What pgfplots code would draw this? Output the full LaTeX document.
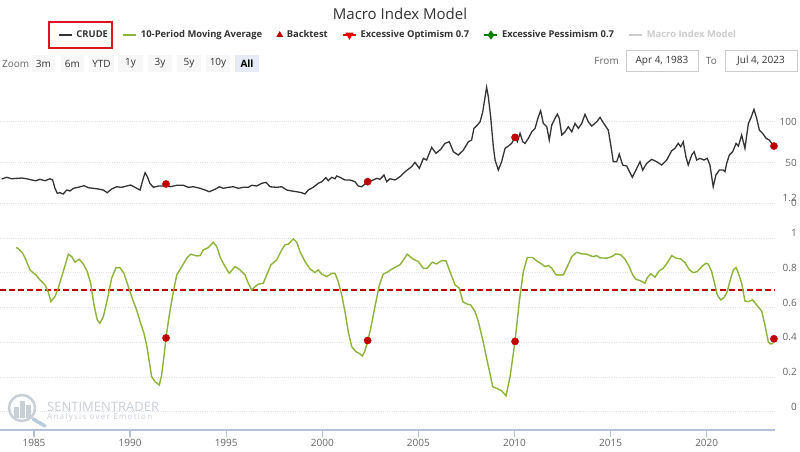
\documentclass[border=0pt]{standalone}
\usepackage{fontspec}
\setmainfont{Open Sans}
\newfontfamily\wmfont[LetterSpace=16]{Open Sans}
\usepackage{pgfplots}
\pgfplotsset{compat=1.18}
\usepackage{pgfplotstable}

\definecolor{crude}{HTML}{333333}
\definecolor{mavg}{HTML}{8DB33A}
\definecolor{thresh}{HTML}{B80000}
\definecolor{dotc}{HTML}{C00000}
\definecolor{gridc}{HTML}{E3E3E3}
\definecolor{axisc}{HTML}{B4C0D6}
\definecolor{tickc}{HTML}{666666}
\definecolor{legoff}{HTML}{CCCCCC}
\definecolor{optc}{HTML}{E00000}
\definecolor{pessc}{HTML}{008000}
\definecolor{btnc}{HTML}{F7F7F7}
\definecolor{btnsel}{HTML}{E6EBF5}
\definecolor{boxc}{HTML}{CCCCCC}
\definecolor{wmc}{HTML}{C9CFD6}
\definecolor{wmblue}{HTML}{B9CCDD}
\definecolor{hilite}{HTML}{E0141E}

% crude oil, weekly close
\pgfplotstableread{
year value
1983.32 29.8
1983.58 31.9
1983.84 30.1
1984.10 30.6
1984.36 31.0
1984.62 30.1
1984.88 28.6
1985.10 27.7
1985.31 29.4
1985.57 27.7
1985.83 30.1
1985.97 28.6
1986.09 18.4
1986.21 12.3
1986.35 13.0
1986.52 11.4
1986.70 16.3
1986.87 15.1
1987.05 18.4
1987.30 19.6
1987.60 21.6
1987.83 19.1
1988.09 18.4
1988.35 17.5
1988.61 16.3
1988.81 13.0
1989.04 17.5
1989.30 20.3
1989.56 19.6
1989.82 21.2
1990.03 22.4
1990.25 19.6
1990.52 16.3
1990.66 28.6
1990.78 37.5
1990.90 32.6
1991.03 24.5
1991.21 19.6
1991.47 21.2
1991.73 21.2
1991.85 23.7
1992.08 20.3
1992.42 22.1
1992.77 22.1
1993.03 19.6
1993.29 20.3
1993.64 18.4
1993.90 16.3
1994.12 14.2
1994.42 17.2
1994.64 20.3
1994.85 18.4
1995.11 19.6
1995.37 20.3
1995.63 18.4
1995.89 19.6
1996.15 19.6
1996.33 22.1
1996.59 21.2
1996.85 24.5
1997.07 25.7
1997.28 20.3
1997.63 19.6
1997.89 20.3
1998.15 16.3
1998.41 15.1
1998.67 14.2
1998.93 13.0
1999.10 11.4
1999.27 16.3
1999.53 19.6
1999.79 24.5
1999.97 26.5
2000.19 31.4
2000.31 27.7
2000.49 31.9
2000.66 30.1
2000.75 33.5
2000.92 31.9
2001.18 28.6
2001.44 28.6
2001.70 26.5
2001.87 21.2
2002.05 20.3
2002.22 23.7
2002.34 26.5
2002.57 27.7
2002.83 30.6
2003.00 29.4
2003.21 34.7
2003.35 26.5
2003.52 30.1
2003.78 28.6
2004.04 32.6
2004.22 36.8
2004.42 40.8
2004.65 44.9
2004.82 50.2
2005.05 42.9
2005.26 55.1
2005.43 53.1
2005.69 68.6
2005.92 61.3
2006.16 66.2
2006.38 73.5
2006.61 75.5
2006.82 63.2
2007.08 59.2
2007.34 65.3
2007.60 75.5
2007.77 77.6
2007.89 91.9
2008.07 96.0
2008.21 100.0
2008.35 112.3
2008.47 130.6
2008.55 142.2
2008.64 130.6
2008.76 106.1
2008.90 69.4
2008.99 53.1
2009.16 40.8
2009.33 51.0
2009.51 67.4
2009.68 70.2
2009.85 73.5
2010.03 80.9
2010.15 75.5
2010.29 85.8
2010.43 75.5
2010.55 73.5
2010.72 79.7
2010.90 87.7
2011.07 91.9
2011.24 106.1
2011.36 113.5
2011.50 98.0
2011.68 93.9
2011.81 77.6
2011.94 96.0
2012.11 104.2
2012.23 109.4
2012.33 104.2
2012.46 83.7
2012.63 87.7
2012.80 93.9
2012.98 87.7
2013.15 98.0
2013.32 91.9
2013.50 98.0
2013.67 109.1
2013.84 100.0
2014.02 94.7
2014.28 100.0
2014.45 105.4
2014.62 98.8
2014.88 89.8
2015.01 71.4
2015.14 51.0
2015.32 51.0
2015.45 60.4
2015.63 46.9
2015.84 45.7
2016.13 31.9
2016.36 42.9
2016.53 51.0
2016.67 40.8
2016.88 49.0
2017.14 53.9
2017.40 51.0
2017.66 46.9
2017.92 53.1
2018.18 64.5
2018.35 67.4
2018.52 73.5
2018.65 69.4
2018.78 75.5
2018.92 57.1
2019.04 46.9
2019.22 59.2
2019.35 63.2
2019.48 53.1
2019.65 55.1
2019.86 53.1
2020.03 55.1
2020.17 46.9
2020.26 32.6
2020.34 20.3
2020.48 34.7
2020.66 40.8
2020.86 40.8
2020.95 38.7
2021.04 49.0
2021.18 59.2
2021.35 63.2
2021.53 73.5
2021.65 70.2
2021.82 83.7
2021.99 67.4
2022.17 98.0
2022.29 104.2
2022.46 115.2
2022.60 104.2
2022.74 89.8
2022.91 85.8
2023.09 79.7
2023.26 77.6
2023.38 73.5
2023.50 70.2
}\crude

% 10-period moving average of the macro index model
\pgfplotstableread{
year value
1984.06 0.945
1984.18 0.940
1984.41 0.913
1984.58 0.874
1984.79 0.817
1984.96 0.800
1985.10 0.788
1985.31 0.759
1985.57 0.730
1985.74 0.690
1985.88 0.634
1986.09 0.663
1986.26 0.711
1986.52 0.807
1986.79 0.907
1986.96 0.893
1987.13 0.861
1987.36 0.878
1987.57 0.850
1987.77 0.807
1987.95 0.740
1988.12 0.615
1988.29 0.529
1988.43 0.510
1988.61 0.548
1988.81 0.644
1989.04 0.769
1989.27 0.830
1989.47 0.830
1989.68 0.797
1989.91 0.720
1990.14 0.644
1990.34 0.586
1990.52 0.519
1990.72 0.452
1990.86 0.384
1991.00 0.288
1991.12 0.202
1991.30 0.173
1991.52 0.154
1991.64 0.211
1991.76 0.317
1991.87 0.427
1992.04 0.557
1992.25 0.692
1992.43 0.788
1992.69 0.836
1992.95 0.884
1993.15 0.907
1993.47 0.897
1993.64 0.899
1993.81 0.932
1994.07 0.945
1994.33 0.976
1994.51 0.951
1994.71 0.884
1994.94 0.836
1995.16 0.797
1995.46 0.836
1995.72 0.817
1995.98 0.788
1996.15 0.740
1996.33 0.701
1996.50 0.720
1996.67 0.734
1996.93 0.740
1997.11 0.788
1997.33 0.846
1997.63 0.874
1997.89 0.932
1998.06 0.961
1998.23 0.965
1998.49 0.995
1998.67 0.976
1998.84 0.922
1999.10 0.865
1999.36 0.822
1999.62 0.801
1999.79 0.817
1999.97 0.792
2000.23 0.778
2000.49 0.797
2000.66 0.797
2000.83 0.749
2001.01 0.673
2001.18 0.576
2001.35 0.461
2001.53 0.375
2001.75 0.346
2001.93 0.336
2002.08 0.321
2002.22 0.350
2002.36 0.409
2002.52 0.480
2002.74 0.605
2002.97 0.730
2003.17 0.792
2003.43 0.807
2003.69 0.826
2004.04 0.846
2004.22 0.874
2004.42 0.907
2004.74 0.878
2004.99 0.865
2005.26 0.826
2005.46 0.826
2005.72 0.861
2005.95 0.851
2006.21 0.870
2006.44 0.868
2006.64 0.807
2006.91 0.730
2007.13 0.711
2007.31 0.634
2007.51 0.621
2007.72 0.615
2007.95 0.576
2008.12 0.519
2008.35 0.413
2008.59 0.288
2008.87 0.144
2009.07 0.135
2009.33 0.121
2009.56 0.092
2009.77 0.202
2010.03 0.407
2010.25 0.634
2010.46 0.807
2010.67 0.888
2010.95 0.888
2011.16 0.868
2011.42 0.850
2011.59 0.836
2011.76 0.842
2011.94 0.826
2012.16 0.788
2012.54 0.788
2012.75 0.836
2012.98 0.893
2013.24 0.918
2013.50 0.909
2013.76 0.907
2013.93 0.899
2014.10 0.893
2014.28 0.899
2014.45 0.886
2014.80 0.884
2015.06 0.893
2015.28 0.909
2015.53 0.903
2015.75 0.878
2015.97 0.836
2016.15 0.788
2016.32 0.763
2016.57 0.753
2016.79 0.740
2016.91 0.772
2017.09 0.794
2017.31 0.775
2017.53 0.811
2017.74 0.826
2017.97 0.861
2018.18 0.899
2018.40 0.884
2018.65 0.880
2018.87 0.859
2019.10 0.817
2019.30 0.801
2019.51 0.807
2019.74 0.836
2019.96 0.855
2020.08 0.850
2020.26 0.807
2020.43 0.730
2020.55 0.673
2020.73 0.644
2020.90 0.657
2021.07 0.692
2021.25 0.769
2021.39 0.817
2021.53 0.830
2021.65 0.797
2021.82 0.740
2021.99 0.638
2022.17 0.634
2022.39 0.644
2022.60 0.615
2022.86 0.580
2023.03 0.500
2023.21 0.400
2023.33 0.390
2023.47 0.394
}\mavg

\pgfplotstableread{
year crude model
1991.87 23.7 0.425
2002.36 26.5 0.410
2010.03 80.9 0.405
2023.50 70.2 0.420
}\backtest

\pgfplotsset{
  chartbase/.style={
    scale only axis, width=775pt,
    xmin=1983.231, xmax=2023.555,
    clip=false,
    axis line style={draw=none},
    ytick style={draw=none},
    ymajorgrids,
    grid style={gridc, dash pattern=on 1pt off 1.2pt, line width=0.7pt},
    yticklabel pos=right,
    /pgf/number format/assume math mode=true,
    tick label style={font=\fontsize{10}{12}\selectfont, text=tickc},
    yticklabel style={anchor=east, inner sep=0pt, xshift=22pt},
  },
}

\begin{document}
\begin{tikzpicture}
\path[use as bounding box, fill=white] (0pt,0pt) rectangle (800pt,451pt);

% title
\node[font=\fontsize{15}{18}\selectfont, text=crude] at (400pt,437pt) {Macro Index Model};

% top pane: crude
\begin{axis}[chartbase,
  at={(0pt,247.7pt)}, anchor=south west, height=122.3pt,
  ymin=0, ymax=150,
  ytick={0,50,100}, xtick=\empty,
  legend columns=-1,
  legend style={at={(0.0748,1.376)}, anchor=west,
    draw=none, fill=none, inner sep=0pt,
    font=\bfseries\fontsize{9.4}{11}\selectfont, text=crude,
    nodes={inner sep=0pt},
    /tikz/every even column/.append style={column sep=14.5pt},
    /tikz/every odd column/.append style={column sep=4pt}},
  legend image code/.code={\draw[mark repeat=2,mark phase=2,#1] plot coordinates {(0pt,0pt) (6.5pt,0pt) (13pt,0pt)};},
]
\addplot[crude, line width=1.3pt, forget plot] table[x=year, y=value] {\crude};
\addplot[only marks, mark=*, mark size=3.6pt, dotc, forget plot] table[x=year, y=crude] {\backtest};
\addlegendimage{crude, line width=1.3pt}
\addlegendentry{CRUDE}
\addlegendimage{mavg, line width=1.5pt}
\addlegendentry{10-Period Moving Average}
\addlegendimage{only marks, mark=triangle*, mark size=3.5pt, dotc}
\addlegendentry{Backtest}
\addlegendimage{optc, line width=1.3pt, mark=triangle*, mark options={rotate=180}, mark size=3.5pt}
\addlegendentry{Excessive Optimism 0.7}
\addlegendimage{pessc, line width=1.3pt, mark=diamond*, mark size=3.5pt}
\addlegendentry{Excessive Pessimism 0.7}
\addlegendimage{legoff, line width=1.3pt}
\addlegendentry{\textcolor{legoff}{Macro Index Model}}
\end{axis}

% bottom pane: model
\begin{axis}[chartbase,
  at={(0pt,21pt)}, anchor=south west, height=226.7pt,
  ymin=-0.105, ymax=1.2,
  separate axis lines,
  axis x line*=bottom,
  x axis line style={draw=axisc, line width=1.2pt, -},
  ytick={0,0.2,0.4,0.6,0.8,1,1.2},
  yticklabels={0,0.2,0.4,0.6,0.8,1,1.2},
  yticklabel style={yshift=5pt},
  xtick={1985,1990,1995,2000,2005,2010,2015,2020},
  xticklabels={1985,1990,1995,2000,2005,2010,2015,2020},
  xtick style={draw=axisc, line width=1.2pt},
  xtick align=outside, major tick length=7pt,
  xticklabel style={inner sep=0pt, yshift=-2pt},
]
\addplot[thresh, line width=1.5pt, dash pattern=on 6pt off 3pt] coordinates {(1983.231,0.7) (2023.555,0.7)};
\addplot[mavg, line width=1.4pt] table[x=year, y=value] {\mavg};
\addplot[only marks, mark=*, mark size=3.6pt, dotc] table[x=year, y=model] {\backtest};
\end{axis}

% x axis baseline of the lower pane
\draw[axisc, line width=1.2pt] (0pt,21pt) -- (775pt,21pt);

% legend highlight box
\draw[hilite, line width=2pt] (49.3pt,403.3pt) rectangle (111.7pt,429.3pt);

% range selector
\begin{scope}[font=\fontsize{10}{12}\selectfont]
\node[anchor=west, text=tickc, inner sep=0pt] at (2pt,387.5pt) {Zoom};
\foreach \a/\b/\t in {32/55/3m,61/84/6m,89/114/YTD,118/143/1y,148/172/3y,177/201/5y,206/230/10y}{
  \fill[btnc] (\a pt,379pt) rectangle (\b pt,396pt);
  \node[text=crude] at ({(\a+\b)/2*1pt},387.5pt) {\t};
}
\fill[btnsel] (235pt,379pt) rectangle (259pt,396pt);
\node[text=black, font=\bfseries\fontsize{10}{12}\selectfont] at (247pt,387.5pt) {All};
\node[anchor=east, text=tickc, inner sep=0pt] at (619pt,390pt) {From};
\draw[boxc] (626pt,380pt) rectangle (698pt,401pt);
\node[text=crude] at (662pt,390pt) {Apr 4, 1983};
\node[anchor=east, text=tickc, inner sep=0pt] at (717pt,390pt) {To};
\draw[boxc] (725pt,380pt) rectangle (797pt,401pt);
\node[text=crude] at (761pt,390pt) {Jul 4, 2023};
\end{scope}

% watermark
\draw[wmc, line width=2.5pt] (22pt,43pt) circle (13pt);
\fill[wmc] (14pt,33pt) rectangle (18.5pt,44pt);
\fill[wmc] (20pt,33pt) rectangle (24.5pt,50pt);
\fill[wmc] (26pt,33pt) rectangle (30.5pt,46pt);
\draw[wmblue, line width=3.5pt, line cap=round] (33pt,32pt) -- (45pt,25pt);
\node[anchor=base west, inner sep=0pt, text=wmc, font=\fontsize{13}{15}\selectfont] at (47pt,40pt) {SENTIMENTRADER};
\node[anchor=base west, inner sep=0pt, text=wmc, font=\wmfont\fontsize{8}{9}\selectfont] at (47pt,31.5pt) {Analysis over Emotion};
\end{tikzpicture}
\end{document}
